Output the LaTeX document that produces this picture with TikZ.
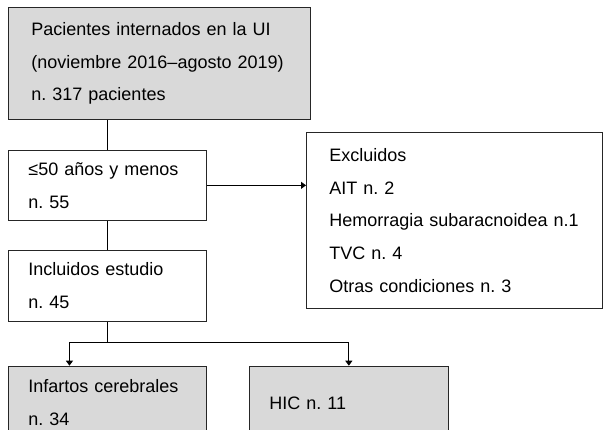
\documentclass[tikz,border=0pt]{standalone}
\usepackage{fontspec}
\setmainfont{Liberation Sans}
\usetikzlibrary{positioning, arrows.meta}
\definecolor{boxgray}{RGB}{217,217,217}
\frenchspacing
\tikzset{every node/.style={ % Same font for every box
font=\fontsize{18}{32.8}\selectfont},
box/.style={ % White box, text set to the left
draw=black!85, line width=0.9pt,
align=left, anchor=north west,
inner xsep=20pt, inner ysep=0pt},
graybox/.style={box, fill=boxgray}, % Shaded box
link/.style={draw=black, line width=0.9pt}, % Plain connector
arrowlink/.style={ % Connector with a small filled head
link, -{Triangle[length=5pt,width=7pt]}}}

\begin{document}
\begin{tikzpicture}[x=1pt, y=-1pt]

    \useasboundingbox (0,0) rectangle (603,430);
    \clip (0,0) rectangle (603,430);

    \node[graybox, text width=256pt, inner xsep=23pt, minimum height=112pt] (pat) at (8,7) {Pacientes internados en la UI\\(noviembre 2016–agosto 2019)\\n. 317 pacientes};
    \node[box, text width=158pt, minimum height=70pt, below=30pt of pat.south west, anchor=north west] (age) {≤50 años y menos\\n. 55};
    \node[box, text width=158pt, minimum height=71pt, below=29pt of age.south west, anchor=north west] (incl) {Incluidos estudio\\n. 45};
    \node[box, text width=250pt, inner xsep=23pt, minimum height=176pt] (excl) at (306,132) {Excluidos\\AIT n. 2\\Hemorragia subaracnoidea n.1\\TVC n. 4\\Otras condiciones n. 3};
    \node[graybox, text width=158pt, minimum height=73pt, below=44pt of incl.south west, anchor=north west] (inf) {Infartos cerebrales\\n. 34};
    \node[graybox, text width=159pt, minimum height=74pt, right=42pt of inf.north east, anchor=north west] (hic) {HIC n. 11};

    \coordinate (split) at ([yshift=-21pt]incl.south);
    \coordinate (infin) at ([xshift=-38pt]inf.north);

    \draw[link] (age.north) -- (age.north |- pat.south);
    \draw[link] (age.south) -- (incl.north);
    \draw[arrowlink] (age.east) -- (age.east -| excl.west);
    \draw[link] (incl.south) -- (split);
    \draw[arrowlink] (split) -| (infin);
    \draw[arrowlink] (split) -| (hic.north);

\end{tikzpicture}
\end{document}
